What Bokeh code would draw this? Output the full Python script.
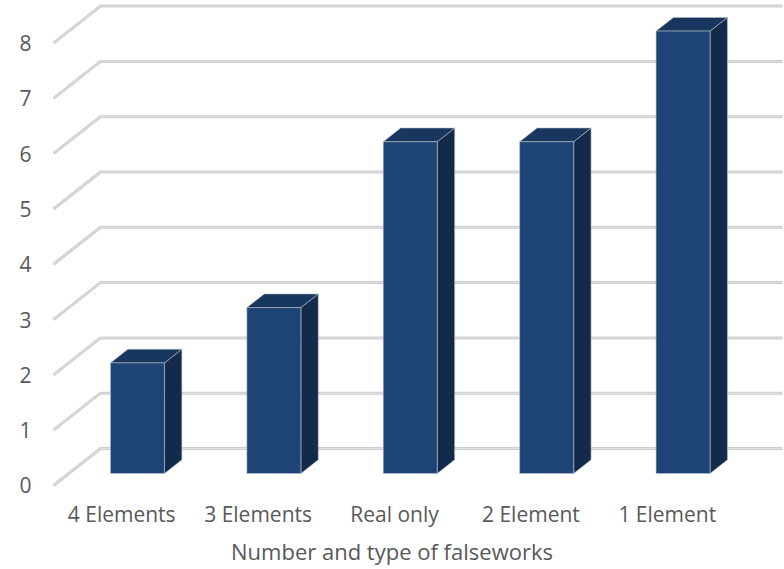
from bokeh.plotting import figure
from bokeh.models import FixedTicker, Range1d, ColumnDataSource
from bokeh.core.properties import value
from bokeh.embed import file_html
from bokeh.resources import INLINE

categories = ["4 Elements", "3 Elements", "Real only", "2 Element", "1 Element"]
values = [2, 3, 6, 6, 8]
y_ticks = [0, 1, 2, 3, 4, 5, 6, 7, 8]
x_title = "Number and type of falseworks"

FONT = "Open Sans"
TXT = "#595959"

# 3D projection parameters (depth direction in data units)
DX = 0.3446
DY = 0.669
D1 = 0.324   # bar front depth
D2 = 0.694   # bar back depth
HW = 0.198   # bar half width
SHIFT = 0.004

p = figure(width=784, height=569, output_backend="svg", toolbar_location=None,
           x_range=Range1d(-0.8886, 4.852), y_range=Range1d(-0.181, 8.770),
           min_border_left=0, min_border_right=1, min_border_top=0, min_border_bottom=74)
p.outline_line_color = None
p.xgrid.visible = False
p.ygrid.visible = False
p.background_fill_color = "white"
p.yaxis.visible = False

n = len(categories)

# gridlines: front-left wall diagonal + back wall horizontal
gxs, gys = [], []
for t in y_ticks:
    gxs.append([-0.5, -0.5 + DX, n - 0.5 + DX])
    gys.append([t, t + DY, t + DY])
p.multi_line(gxs, gys, line_color="#cdcdcd", line_width=3)
p.multi_line(gxs, gys, line_color="#e2e2e2", line_width=1)

# y tick labels at the front edge of the walls
ysrc = ColumnDataSource(dict(x=[-0.661] * len(y_ticks), y=y_ticks, t=[str(t) for t in y_ticks]))
p.text(x="x", y="y", text="t", source=ysrc, text_align="right", text_baseline="middle",
       text_font=value(FONT), text_font_size="21px", text_color=TXT)

# bars
fx, fy, tx, ty, sx, sy = [], [], [], [], [], []
dd = D2 - D1
for i, v in enumerate(values):
    c = i + D1 * DX + SHIFT
    xl, xr = c - HW, c + HW
    b = D1 * DY
    top = v + b
    fx.append([xl, xr, xr, xl]); fy.append([b, b, top, top])
    tx.append([xl, xr, xr + dd * DX, xl + dd * DX]); ty.append([top, top, top + dd * DY, top + dd * DY])
    sx.append([xr, xr + dd * DX, xr + dd * DX, xr]); sy.append([b, b + dd * DY, top + dd * DY, top])

edge = dict(line_color="#b8bec8", line_width=1, line_alpha=0.6)
p.patches(sx, sy, fill_color="#142a4a", **edge)
p.patches(tx, ty, fill_color="#19365e", **edge)
p.patches(fx, fy, fill_color="#1e4476", **edge)

# x axis
p.xaxis.ticker = FixedTicker(ticks=list(range(n)))
p.xaxis.major_label_overrides = {i: c for i, c in enumerate(categories)}
p.xaxis.axis_line_color = None
p.xaxis.major_tick_line_color = None
p.xaxis.minor_tick_line_color = None
p.xaxis.major_label_standoff = -2
p.xaxis.major_label_text_font = FONT
p.xaxis.major_label_text_font_size = "21px"
p.xaxis.major_label_text_color = TXT
p.xaxis.axis_label = x_title
p.xaxis.axis_label_standoff = 5
p.xaxis.axis_label_text_font = FONT
p.xaxis.axis_label_text_font_size = "22px"
p.xaxis.axis_label_text_font_style = "normal"
p.xaxis.axis_label_text_color = TXT

open("out.html", "w").write(file_html(p, INLINE))
